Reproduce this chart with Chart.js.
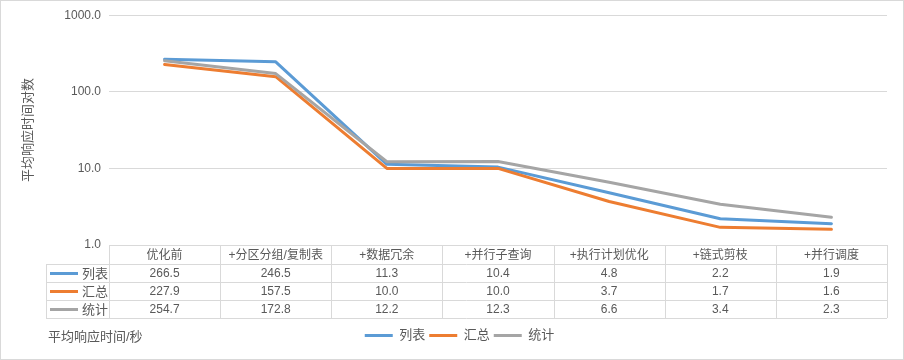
<!DOCTYPE html>
<html>
<head>
<meta charset="utf-8">
<script src="https://cdn.jsdelivr.net/npm/chart.js@4.4.0/dist/chart.umd.min.js"></script>
<style>
html, body { margin: 0; padding: 0; background: #fff; }
</style>
</head>
<body>
<canvas id="myChart" width="904" height="360"></canvas>
<script>
const categories = ['优化前', '+分区分组/复制表', '+数据冗余', '+并行子查询', '+执行计划优化', '+链式剪枝', '+并行调度'];
const seriesNames = ['列表', '汇总', '统计'];
const listValues = [266.5, 246.5, 11.3, 10.4, 4.8, 2.2, 1.9];
const sumValues = [227.9, 157.5, 10.0, 10.0, 3.7, 1.7, 1.6];
const statValues = [254.7, 172.8, 12.2, 12.3, 6.6, 3.4, 2.3];
const yTicks = [1, 10, 100, 1000];

const colors = ['#5B9BD5', '#ED7D31', '#A5A5A5'];
const FONT = '"Liberation Sans", "Noto Sans CJK SC", sans-serif';
const TEXT = '#595959';
const GRID = '#d9d9d9';

// data table under the plot, columns follow the x scale
const tablePlugin = {
	id: 'dataTable',
	afterLayout(chart) {
		// legend sits a bit right of centre in the original
		chart.legend.left += 16;
		chart.legend.right += 16;
	},
	beforeDraw(chart) {
		const c = chart.ctx;
		c.save();
		c.fillStyle = '#fff';
		c.fillRect(0, 0, chart.width, chart.height);
		c.restore();
	},
	afterDraw(chart) {
		const c = chart.ctx;
		const xs = chart.scales.x;
		const area = chart.chartArea;
		const half = (area.right - area.left) / categories.length / 2;
		const keyLeft = 46;
		const rows = [area.bottom, area.bottom + 19, area.bottom + 37, area.bottom + 55, area.bottom + 73];
		const all = [listValues, sumValues, statValues];

		c.save();
		c.strokeStyle = GRID;
		c.lineWidth = 1;
		c.beginPath();
		// horizontal
		c.moveTo(area.left, Math.round(rows[0]) + 0.5); c.lineTo(area.right, Math.round(rows[0]) + 0.5);
		for (let r = 1; r < rows.length; r++) {
			c.moveTo(keyLeft, Math.round(rows[r]) + 0.5);
			c.lineTo(area.right, Math.round(rows[r]) + 0.5);
		}
		// vertical
		c.moveTo(keyLeft + 0.5, rows[1]); c.lineTo(keyLeft + 0.5, rows[4]);
		for (let i = 0; i <= categories.length; i++) {
			let px = Math.round(area.left + half * 2 * i) + 0.5;
			c.moveTo(px, rows[0]); c.lineTo(px, rows[4]);
		}
		c.stroke();

		c.fillStyle = TEXT;
		c.font = '12px ' + FONT;
		c.textAlign = 'center';
		c.textBaseline = 'middle';
		categories.forEach(function (cat, i) {
			c.fillText(cat, xs.getPixelForValue(i), (rows[0] + rows[1]) / 2 + 1);
		});
		all.forEach(function (vals, s) {
			let cy = (rows[s + 1] + rows[s + 2]) / 2 + 1;
			vals.forEach(function (v, i) {
				c.fillText(v.toFixed(1), xs.getPixelForValue(i), cy);
			});
			c.fillStyle = colors[s];
			c.fillRect(50, cy - 2, 28, 3);
			c.fillStyle = TEXT;
			c.textAlign = 'left';
			c.font = '13px ' + FONT;
			c.fillText(seriesNames[s], 82, cy);
			c.font = '12px ' + FONT;
			c.textAlign = 'center';
		});

		c.textAlign = 'left';
		c.font = '13px ' + FONT;
		c.fillText('平均响应时间/秒', 48, 337);

		c.strokeStyle = GRID;
		c.strokeRect(0.5, 0.5, chart.width - 1, chart.height - 1);
		c.restore();
	}
};

const ctx = document.getElementById('myChart').getContext('2d');
const allValues = [listValues, sumValues, statValues];
let config = {
	type: 'line',
	data: {
		labels: categories,
		datasets: seriesNames.map(function (name, i) {
			return {
				label: name,
				data: allValues[i],
				borderColor: colors[i],
				backgroundColor: colors[i],
				borderWidth: 3,
				pointRadius: 0,
				borderJoinStyle: 'round',
				borderCapStyle: 'round',
				tension: 0,
				order: 3 - i
			};
		})
	},
	options: {
		responsive: false,
		animation: false,
		layout: { padding: { left: 0, right: 17, top: 15, bottom: 8 } },
		plugins: {
			tooltip: { enabled: false },
			legend: {
				position: 'bottom',
				labels: {
					boxWidth: 28,
					boxHeight: 3,
					padding: 4,
					color: TEXT,
					font: { size: 13, family: FONT },
					sort: function (a, b) { return a.datasetIndex - b.datasetIndex; },
					generateLabels: function (chart) {
						let items = Chart.defaults.plugins.legend.labels.generateLabels(chart);
						items.forEach(function (it) { it.lineWidth = 0; it.strokeStyle = 'rgba(0,0,0,0)'; });
						return items;
					}
				}
			}
		},
		scales: {
			x: {
				type: 'category',
				offset: true,
				grid: { display: false },
				border: { display: false },
				ticks: { display: false },
				afterFit: function (s) { s.height = 80; }
			},
			y: {
				type: 'logarithmic',
				min: 1,
				max: 1000,
				afterBuildTicks: function (s) { s.ticks = yTicks.map(function (v) { return { value: v }; }); },
				afterFit: function (s) { s.width = 109; },
				ticks: {
					color: TEXT,
					padding: 8,
					font: { size: 12, family: FONT },
					callback: function (v) { return Number(v).toFixed(1); }
				},
				grid: { color: GRID, drawTicks: false },
				border: { display: false },
				title: {
					display: true,
					text: '平均响应时间对数',
					color: TEXT,
					font: { size: 13, family: FONT },
					padding: { top: 21, bottom: 0 }
				}
			}
		}
	},
	plugins: [tablePlugin]
};

var myChart = new Chart(ctx, config);
</script>
</body>
</html>
